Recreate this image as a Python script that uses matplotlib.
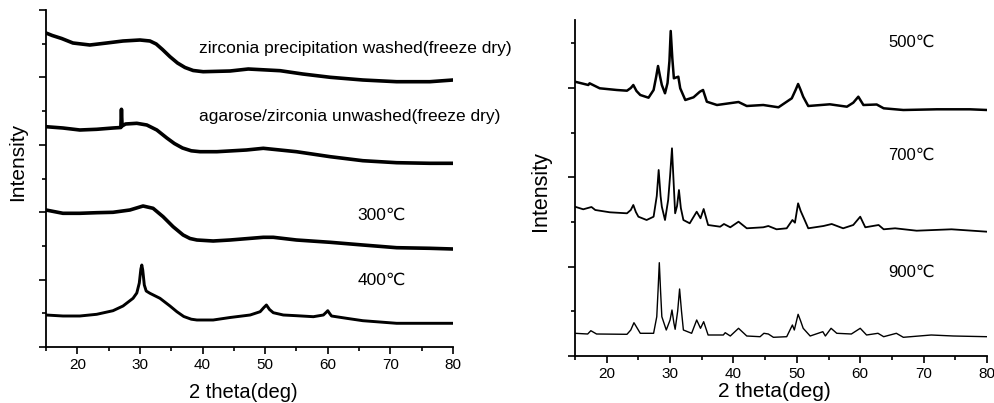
"""XRD patterns of zirconia samples: as-dried gels (left) and calcined powders (right)."""

import matplotlib

matplotlib.use("Agg")
import matplotlib.pyplot as plt
from matplotlib.ticker import MultipleLocator

plt.rcParams["font.family"] = ["Liberation Sans", "DejaVu Sans"]

# ---- left panel: dried gels and low-temperature calcination (arbitrary intensity) ----
washed_x = [15.0, 16.0, 17.5, 19.3, 22.0, 24.7, 27.3, 30.0, 31.6, 32.6, 33.6, 34.8, 36.0,
            37.2, 38.5, 40.1, 44.4, 47.3, 52.4, 56.0, 60.4, 65.6, 71.0, 76.3, 80.0]
washed_y = [3140, 3115, 3085, 3040, 3020, 3040, 3060, 3070, 3060, 3030, 2975, 2903, 2840,
            2795, 2765, 2753, 2760, 2780, 2763, 2730, 2697, 2670, 2653, 2653, 2670]

unwashed_x = [15.0, 17.7, 20.4, 23.1, 25.7, 26.95, 27.05, 27.15, 27.7, 29.5, 31.1, 32.7,
              34.3, 35.5, 36.8, 38.2, 39.6, 42.3, 47.0, 49.7, 55.0, 60.4, 65.6, 71.0, 76.3,
              80.0]
unwashed_y = [2203, 2190, 2170, 2177, 2190, 2195, 2377, 2210, 2230, 2237, 2220, 2170,
              2090, 2035, 1990, 1962, 1953, 1953, 1970, 1987, 1953, 1903, 1863, 1843, 1837,
              1837]

t300_x = [15.0, 17.7, 20.4, 23.1, 25.7, 28.4, 30.5, 32.1, 33.7, 35.3, 36.9, 38.0, 39.1,
          41.7, 44.4, 49.7, 51.3, 55.0, 60.4, 65.6, 71.0, 76.3, 80.0]
t300_y = [1370, 1337, 1337, 1343, 1347, 1370, 1410, 1387, 1303, 1203, 1120, 1085, 1070,
          1060, 1070, 1097, 1097, 1070, 1047, 1020, 993, 987, 980]

t400_x = [15.0, 17.7, 20.4, 23.1, 25.7, 27.3, 28.9, 29.5, 29.9, 30.15, 30.3, 30.45, 30.7,
          31.0, 31.6, 33.2, 34.8, 35.9, 37.0, 38.2, 39.1, 41.7, 44.4, 47.6, 49.2, 49.8,
          50.2, 50.7, 51.3, 52.9, 55.0, 57.7, 59.3, 59.8, 60.0, 60.3, 60.6, 63.0, 65.6,
          71.0, 76.3, 80.0]
t400_y = [320, 310, 310, 327, 363, 410, 487, 540, 640, 780, 820, 770, 620,
          560, 537, 487, 410, 353, 305, 278, 270, 270, 295, 320, 353, 395,
          420, 375, 343, 320, 313, 303, 320, 350, 363, 335, 310, 287, 263,
          237, 237, 237]

# ---- right panel: calcined powders ----
t500_x = [15.0, 17.1, 17.3, 18.9, 21.6, 23.2, 23.8, 24.2, 24.7, 25.3, 26.6, 27.4, 27.8,
          28.1, 28.4, 28.7, 29.2, 29.6, 29.9, 30.1, 30.35, 30.6, 31.3, 31.6, 32.4, 33.7,
          34.7, 35.2, 35.8, 37.4, 40.8, 42.1, 44.7, 47.1, 49.2, 49.8, 50.2, 50.6, 51.0,
          51.8, 55.2, 57.9, 58.9, 59.7, 60.5, 62.6, 63.7, 66.8, 72.1, 77.3, 80.0]
t500_y = [2743, 2710, 2727, 2677, 2660, 2653, 2680, 2710, 2650, 2610, 2583, 2660, 2790,
          2900, 2800, 2710, 2627, 2730, 2950, 3250, 2980, 2777, 2793, 2677, 2560, 2587,
          2643, 2660, 2543, 2510, 2540, 2500, 2510, 2487, 2577, 2660, 2720, 2660, 2593,
          2500, 2517, 2493, 2533, 2593, 2510, 2515, 2477, 2460, 2467, 2467, 2460]

t700_x = [15.0, 16.3, 17.6, 18.2, 20.5, 23.2, 23.8, 24.2, 24.6, 25.0, 26.3, 27.4, 27.9,
          28.2, 28.5, 28.7, 29.2, 29.7, 30.0, 30.3, 30.55, 30.8, 31.1, 31.4, 31.7, 32.1,
          33.1, 34.2, 34.8, 35.3, 36.0, 37.9, 38.5, 39.5, 40.8, 42.1, 44.7, 45.5, 46.8,
          48.4, 49.3, 49.7, 50.2, 50.6, 51.0, 51.8, 54.2, 55.5, 57.3, 58.9, 60.0, 60.8,
          62.9, 63.7, 65.5, 68.9, 74.4, 80.0]
t700_y = [1493, 1467, 1490, 1460, 1437, 1427, 1460, 1510, 1440, 1393, 1360, 1393, 1600,
          1860, 1600, 1493, 1360, 1560, 1800, 2077, 1750, 1427, 1500, 1660, 1480, 1360,
          1327, 1443, 1377, 1470, 1310, 1293, 1320, 1287, 1343, 1277, 1287, 1300, 1267,
          1277, 1360, 1333, 1527, 1450, 1393, 1277, 1300, 1320, 1277, 1310, 1393, 1287,
          1310, 1267, 1277, 1253, 1267, 1243]

t900_x = [15.0, 17.0, 17.5, 18.4, 23.2, 23.8, 24.3, 24.8, 25.3, 27.4, 27.9, 28.1, 28.3,
          28.5, 28.7, 29.4, 30.0, 30.3, 30.6, 30.8, 31.2, 31.5, 31.8, 32.1, 33.4, 34.2,
          34.8, 35.3, 36.0, 38.4, 38.7, 39.5, 40.8, 42.1, 44.2, 44.8, 45.5, 46.3, 48.4,
          49.3, 49.6, 50.2, 50.6, 51.0, 52.1, 54.1, 54.5, 55.4, 56.3, 58.6, 60.0, 61.0,
          62.8, 63.7, 65.7, 66.8, 71.2, 74.7, 80.0]
t900_y = [227, 220, 253, 220, 217, 260, 333, 280, 227, 227, 393, 650, 933,
          650, 393, 260, 360, 460, 330, 267, 450, 670, 450, 260, 227, 360,
          277, 343, 210, 210, 233, 200, 277, 200, 193, 227, 220, 187, 193,
          310, 260, 417, 350, 277, 200, 243, 200, 277, 227, 220, 277, 210,
          227, 193, 227, 187, 210, 200, 193]

left_series = [(washed_x, washed_y, 2.6), (unwashed_x, unwashed_y, 2.6),
               (t300_x, t300_y, 2.6), (t400_x, t400_y, 2.1)]
left_labels = [("zirconia precipitation washed(freeze dry)", 39.4, 2990),
               ("agarose/zirconia unwashed(freeze dry)", 39.4, 2300),
               ("300\u2103", 64.7, 1320),
               ("400\u2103", 64.7, 670)]

right_series = [(t500_x, t500_y, 1.8), (t700_x, t700_y, 1.3), (t900_x, t900_y, 1.0)]
right_labels = [("500\u2103", 64.4, 3140), ("700\u2103", 64.4, 2010), ("900\u2103", 64.4, 840)]


def style_axes(ax, ymax, ystep):
    ax.set_xlim(15, 80)
    ax.set_ylim(0, ymax)
    for side in ("top", "right"):
        ax.spines[side].set_visible(False)
    for side in ("left", "bottom"):
        ax.spines[side].set_linewidth(1.3)
    ax.xaxis.set_major_locator(MultipleLocator(10))
    ax.xaxis.set_minor_locator(MultipleLocator(5))
    ax.yaxis.set_major_locator(MultipleLocator(2 * ystep))
    ax.yaxis.set_minor_locator(MultipleLocator(ystep))
    ax.tick_params(which="both", direction="out", width=1.2, labelsize=11)
    ax.tick_params(which="major", length=5)
    ax.tick_params(which="minor", length=3)
    ax.tick_params(axis="y", which="both", labelleft=False)
    ax.tick_params(axis="x", pad=3)


fig = plt.figure(figsize=(9.95, 4.03), dpi=100)
fig.patch.set_facecolor("white")

ax_l = fig.add_axes([46 / 995, 56 / 403, 407 / 995, 337 / 403])
ax_r = fig.add_axes([575 / 995, 47 / 403, 412 / 995, 336 / 403])

for xs, ys, lw in left_series:
    ax_l.plot(xs, ys, color="black", linewidth=lw, solid_joinstyle="round")
for text, tx, ty in left_labels:
    ax_l.text(tx, ty, text, fontsize=12.5, ha="left", va="center")
style_axes(ax_l, 3370, 337)
ax_l.set_xlabel("2 theta(deg)", fontsize=14.5, va="center")
ax_l.xaxis.set_label_coords(0.484, -0.134)
ax_l.set_ylabel("Intensity", fontsize=15, va="center")
ax_l.yaxis.set_label_coords(-0.069, 0.549)

for xs, ys, lw in right_series:
    ax_r.plot(xs, ys, color="black", linewidth=lw, solid_joinstyle="round")
for text, tx, ty in right_labels:
    ax_r.text(tx, ty, text, fontsize=12, ha="left", va="center")
style_axes(ax_r, 3360, 447)
ax_r.set_xlabel("2 theta(deg)", fontsize=15, va="center")
ax_r.xaxis.set_label_coords(0.483, -0.105)
ax_r.set_ylabel("Intensity", fontsize=15.5, va="center")
ax_r.yaxis.set_label_coords(-0.083, 0.491)

fig.savefig("out.png", dpi=100, facecolor="white")
